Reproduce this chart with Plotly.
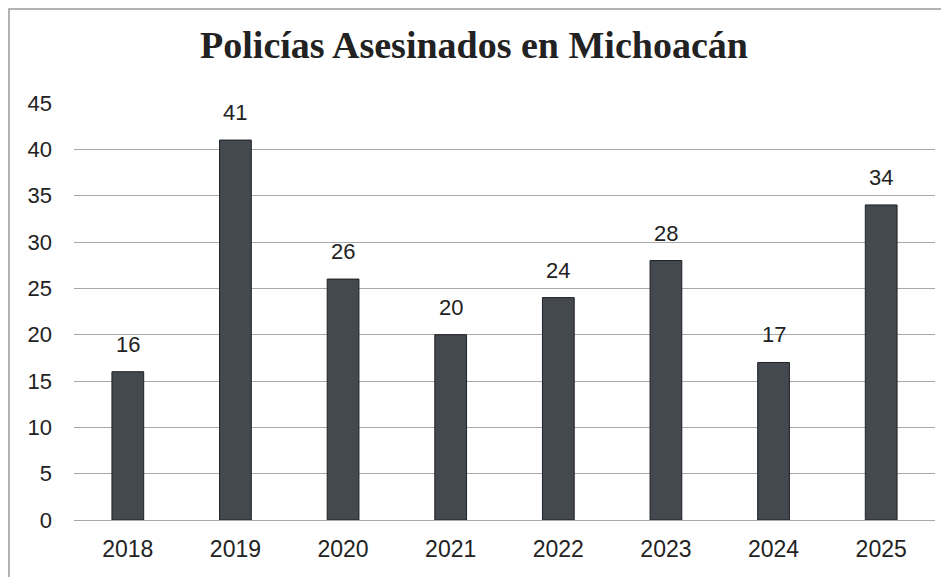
import plotly.graph_objects as go

years = ["2018", "2019", "2020", "2021", "2022", "2023", "2024", "2025"]
values = [16, 41, 26, 20, 24, 28, 17, 34]
y_ticks = [0, 5, 10, 15, 20, 25, 30, 35, 40, 45]
title_text = "Policías Asesinados en Michoacán"

# page body has an 8px margin, so the figure is drawn 8px in from the window corner
OFF = 8
W, H = 949 - OFF, 578 - OFF
L, R, T, B = 74 - OFF, 14, 103 - OFF, 58
pw, ph = W - L - R, H - T - B

fig = go.Figure()
fig.add_trace(go.Bar(
    x=years, y=values,
    marker=dict(color="#44484f", line=dict(color="#1e2126", width=1)),
    width=0.295,
    hoverinfo="x+y",
))

# numeric-looking category names are read as indices by annotations, so use index
for i, v in enumerate(values):
    fig.add_annotation(x=i, y=v, xref="x", yref="y", text=str(v), showarrow=False,
                       yanchor="bottom", yshift=13,
                       font=dict(family="Liberation Sans, Arial", size=22, color="#222"))

def px_x(p):
    return (p - OFF - L) / pw

def px_y(p):
    return (H - B - (p - OFF)) / ph

x0, x1 = px_x(9), px_x(946)
y0, y1 = px_y(577), px_y(9)
fig.add_shape(type="path", xref="paper", yref="paper",
              path=f"M {x0} {y0} L {x0} {y1} L {x1} {y1}",
              line=dict(color="#9a9a9a", width=1.5), layer="below")

fig.update_layout(
    width=W, height=H,
    margin=dict(l=L, r=R, t=T, b=B),
    paper_bgcolor="white", plot_bgcolor="white",
    title=dict(text=f"<b>{title_text}</b>", x=(474 - OFF) / W, xref="container",
               y=1 - (45 - OFF) / H, yref="container", xanchor="center", yanchor="middle",
               font=dict(family="Liberation Serif, Times New Roman", size=38, color="#222")),
    showlegend=False,
    xaxis=dict(type="category", categoryorder="array", categoryarray=years,
               range=[-0.5, len(years) - 0.5],
               showgrid=False, showline=False, ticks="", zeroline=False,
               tickfont=dict(family="Liberation Sans, Arial", size=23, color="#222"),
               ticklabelstandoff=13),
    yaxis=dict(range=[0, 45], tickvals=y_ticks, showgrid=True, gridcolor="#a8a8a8",
               gridwidth=1, zeroline=True, zerolinecolor="#a8a8a8", zerolinewidth=1,
               showline=False, ticks="",
               tickfont=dict(family="Liberation Sans, Arial", size=22, color="#222"),
               ticklabelstandoff=21),
)

fig.write_html("out.html")
